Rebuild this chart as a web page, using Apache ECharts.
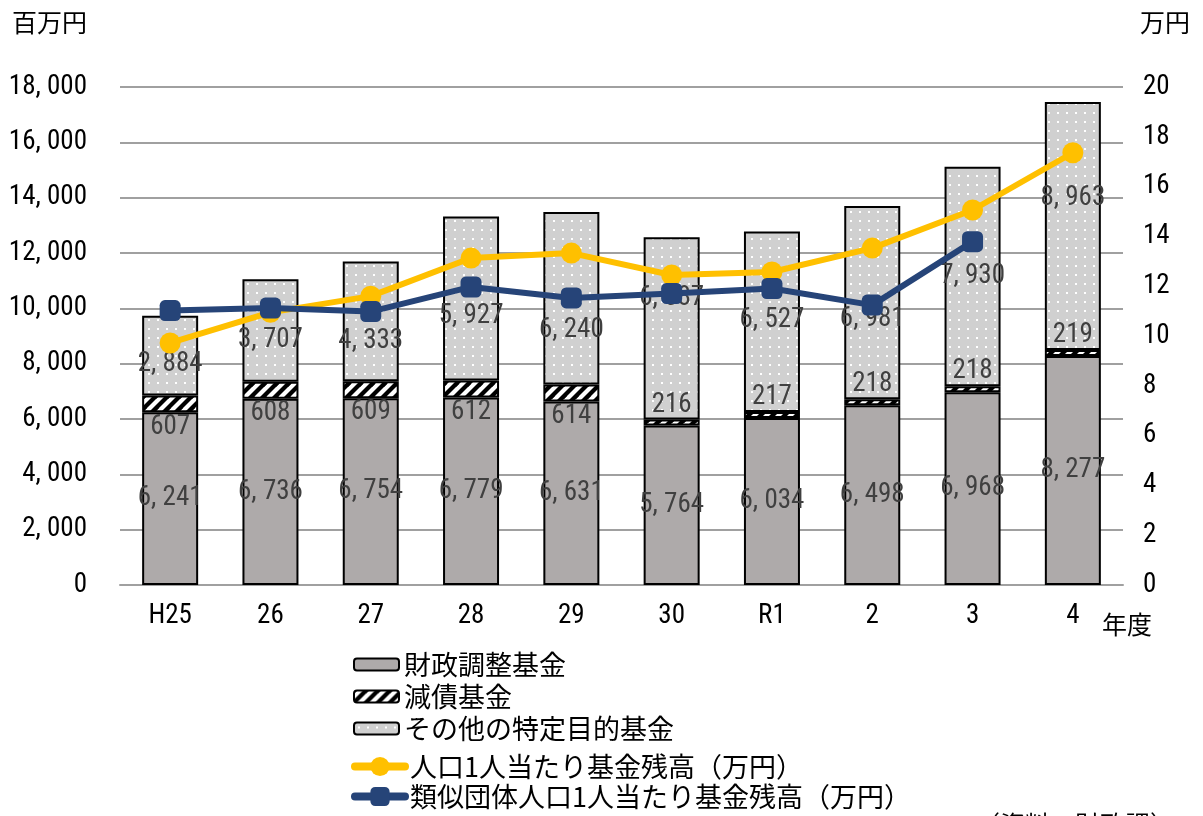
<!DOCTYPE html>
<html><head><meta charset="utf-8">
<script src="https://cdn.jsdelivr.net/npm/echarts@6/dist/echarts.min.js"></script>
<style>html,body{margin:0;padding:0;background:#fff}#c{width:1203px;height:816px}</style>
</head><body><div id="c"></div>
<script>
const categories = ['H25','26','27','28','29','30','R1','2','3','4'];
const zaiseiChosei = [6241,6736,6754,6779,6631,5764,6034,6498,6968,8277];
const gensai = [607,608,609,612,614,216,217,218,218,219];
const sonota = [2884,3707,4333,5927,6240,6587,6527,6981,7930,8963];
const perCapita = [9.72,10.95,11.6,13.13,13.33,12.45,12.57,13.53,15.06,17.36];
const similarPerCapita = [11.02,11.12,10.98,11.97,11.53,11.71,11.91,11.24,13.79,null];
const leftTicks = {min:0,max:18000,interval:2000};
const rightTicks = {min:0,max:20,interval:2};

const NUMF = '"Roboto Condensed","DejaVu Sans Condensed",sans-serif';
const JPF = '"Noto Sans CJK JP",sans-serif';
function fmt(v){ const s=String(v); return s.length>3 ? s.slice(0,-3)+', '+s.slice(-3) : s; }

function hatch(){
  const c=document.createElement('canvas'); c.width=12; c.height=12;
  const g=c.getContext('2d'); g.fillStyle='#fff'; g.fillRect(0,0,12,12);
  g.strokeStyle='#000'; g.lineWidth=4.2;
  [[-12,24,24,-12],[-24,24,24,-24],[0,24,24,0],[-12,12,12,-12]].forEach(a=>{g.beginPath();g.moveTo(a[0],a[1]);g.lineTo(a[2],a[3]);g.stroke();});
  return c;
}
function dots(){
  const c=document.createElement('canvas'); c.width=9; c.height=9;
  const g=c.getContext('2d'); g.fillStyle='#d0d0d0'; g.fillRect(0,0,9,9);
  g.fillStyle='#ffffff'; g.fillRect(4,4,2,2);
  return c;
}
const sonotaOffsets=[9,10,20,18,32,-30,-2,17,0,-28];
const gensaiPos=['bottom','bottom','bottom','bottom','bottom','top','top','top','top','top'];

const labelBase={color:'#404040',fontFamily:NUMF,fontSize:27,formatter:p=>fmt(p.value)};
const chart=echarts.init(document.getElementById('c'),null,{renderer:'canvas'});
chart.setOption({
  animation:false,
  grid:{left:120,right:80,top:87,bottom:231},
  legend:[
    {orient:'vertical',left:348,top:646,itemGap:5,itemWidth:45,itemHeight:12,height:120,
     textStyle:{fontFamily:JPF,fontSize:27,color:'#000'},
     data:['財政調整基金','減債基金','その他の特定目的基金']},
    {orient:'vertical',left:346,top:748,itemGap:3,itemWidth:50,itemHeight:24,height:80,
     lineStyle:{width:8,cap:'round'},
     textStyle:{fontFamily:JPF,fontSize:27,color:'#000'},
     data:['人口1人当たり基金残高（万円）','類似団体人口1人当たり基金残高（万円）']}
  ],
  xAxis:{type:'category',data:categories,
    axisLine:{lineStyle:{color:'#a0a0a0',width:2}},axisTick:{show:false},
    axisLabel:{color:'#000',fontFamily:NUMF,fontSize:27,margin:18}},
  yAxis:[
    {type:'value',min:leftTicks.min,max:leftTicks.max,interval:leftTicks.interval,
     axisLine:{show:false},axisTick:{show:false},
     splitLine:{lineStyle:{color:'#a0a0a0',width:2}},
     axisLabel:{color:'#000',fontFamily:NUMF,fontSize:27,margin:33,formatter:v=>fmt(v)}},
    {type:'value',min:rightTicks.min,max:rightTicks.max,interval:rightTicks.interval,
     axisLine:{show:false},axisTick:{show:false},splitLine:{show:false},
     axisLabel:{color:'#000',fontFamily:NUMF,fontSize:27,margin:20}}
  ],
  series:[
    {name:'財政調整基金',type:'bar',stack:'a',barWidth:56,data:zaiseiChosei,
     itemStyle:{color:'#aeaaaa',borderColor:'#000',borderWidth:2},
     label:Object.assign({show:true,position:'inside'},labelBase)},
    {name:'減債基金',type:'bar',stack:'a',barWidth:56,
     data:gensai.map((v,i)=>({value:v,label:{position:gensaiPos[i],distance:1}})),
     itemStyle:{color:{image:hatch(),repeat:'repeat'},borderColor:'#000',borderWidth:2},
     label:Object.assign({show:true},labelBase)},
    {name:'その他の特定目的基金',type:'bar',stack:'a',barWidth:56,
     data:sonota.map((v,i)=>({value:v,label:{offset:[0,sonotaOffsets[i]]}})),
     itemStyle:{color:{image:dots(),repeat:'repeat'},borderColor:'#000',borderWidth:2},
     label:Object.assign({show:true,position:'inside'},labelBase)},
    {name:'人口1人当たり基金残高（万円）',type:'line',yAxisIndex:1,data:perCapita,
     symbol:'circle',symbolSize:21,lineStyle:{color:'#ffc000',width:6},itemStyle:{color:'#ffc000'},z:5},
    {name:'類似団体人口1人当たり基金残高（万円）',type:'line',yAxisIndex:1,data:similarPerCapita,
     symbol:'roundRect',symbolSize:21,lineStyle:{color:'#264478',width:6},itemStyle:{color:'#264478'},z:6}
  ],
  graphic:[
    {type:'text',left:12,top:10,style:{text:'百万円',font:'25px '+JPF,fill:'#000'}},
    {type:'text',left:1140,top:10,style:{text:'万円',font:'25px '+JPF,fill:'#000'}},
    {type:'text',left:1102,top:612,style:{text:'年度',font:'25px '+JPF,fill:'#000'}},
    {type:'text',left:975,top:812,style:{text:'（資料：財政課）',font:'25px '+JPF,fill:'#000'}}
  ]
});
</script></body></html>
